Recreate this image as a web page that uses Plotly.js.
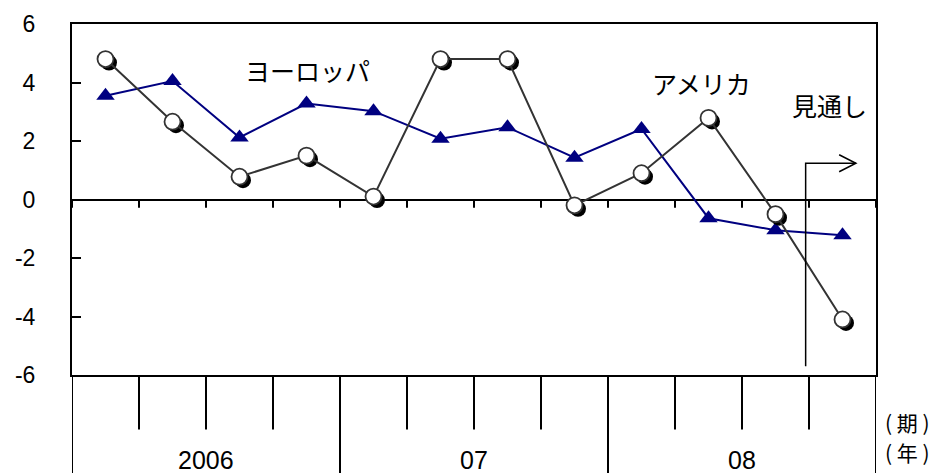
<!DOCTYPE html>
<html>
<head>
<meta charset="utf-8">
<script src="https://cdn.plot.ly/plotly-3.0.1.min.js"></script>
<style>html,body{margin:0;padding:0;background:#fff;}#chart{width:950px;height:473px;}</style>
</head>
<body>
<div id="chart"></div>
<script>
// quarters 2006Q1 .. 2008Q4
var quarters = [0,1,2,3,4,5,6,7,8,9,10,11];
var years = ['2006','07','08'];
var america = [4.8, 2.66, 0.78, 1.5, 0.1, 4.8, 4.8, -0.2, 0.9, 2.79, -0.5, -4.1];
var europe  = [3.55, 4.05, 2.12, 3.28, 3.02, 2.08, 2.47, 1.43, 2.41, -0.64, -1.05, -1.22];
var yTicks = [-6,-4,-2,0,2,4,6];
var forecastStart = 10.45;

var numFont = 'Liberation Sans, Arial, sans-serif';
var jpFont = 'Noto Sans CJK JP, sans-serif';

var traces = [
  {x: quarters, y: europe, type: 'scatter', mode: 'lines+markers',
   line: {color: '#000080', width: 2},
   marker: {symbol: 'triangle-up', size: 16, color: '#000080'},
   xaxis: 'x', yaxis: 'y', hoverinfo: 'skip'},
  {x: quarters, y: america, type: 'scatter', mode: 'markers',
   marker: {symbol: 'circle', size: 16, color: '#000', line: {width: 0}},
   xaxis: 'x2', yaxis: 'y2', hoverinfo: 'skip'},
  {x: quarters, y: america, type: 'scatter', mode: 'lines+markers',
   line: {color: '#333', width: 2},
   marker: {symbol: 'circle', size: 16, color: '#fff', line: {color: '#333', width: 1.8}},
   xaxis: 'x3', yaxis: 'y3', hoverinfo: 'skip'}
];

var n = quarters.length;
var shapes = [];
// zero-line ticks and lower table lines
for (var i = 0; i <= n; i++) {
  var xb = i - 0.5;
  shapes.push({type: 'line', xref: 'x', yref: 'y', x0: xb, x1: xb, y0: 0, y1: -0.28,
               line: {color: '#000', width: 2}});
  var isYear = (i % 4 === 0);
  shapes.push({type: 'line', xref: 'x', yref: 'paper', x0: xb, x1: xb, y0: 0,
               y1: isYear ? -0.3 : -0.155, line: {color: '#000', width: 2}});
}
// forecast marker line + arrow
var ay = 1.24, ax1 = 11.2;
shapes.push({type: 'path', xref: 'x', yref: 'y',
  path: 'M ' + forecastStart + ',-5.7 L ' + forecastStart + ',' + ay + ' L ' + ax1 + ',' + ay,
  line: {color: '#000', width: 1.5}});
shapes.push({type: 'path', xref: 'x', yref: 'y',
  path: 'M ' + (ax1 - 0.25) + ',' + (ay + 0.29) + ' L ' + ax1 + ',' + ay + ' L ' + (ax1 - 0.25) + ',' + (ay - 0.29),
  line: {color: '#000', width: 1.5}});

var annotations = [
  {text: 'ヨーロッパ', x: 3.01, y: 4.42, xref: 'x', yref: 'y', showarrow: false,
   font: {family: jpFont, size: 25, color: '#000'}},
  {text: 'アメリカ', x: 8.9, y: 4.0, xref: 'x', yref: 'y', showarrow: false,
   font: {family: jpFont, size: 25, color: '#000'}},
  {text: '見通し', x: 10.8, y: 3.22, xref: 'x', yref: 'y', showarrow: false,
   font: {family: jpFont, size: 25, color: '#000'}},
  {text: '( 期 )', x: 1.009, y: -0.135, xref: 'paper', yref: 'paper', xanchor: 'left', yanchor: 'middle',
   showarrow: false, font: {family: jpFont, size: 21, color: '#000'}},
  {text: '( 年 )', x: 1.009, y: -0.218, xref: 'paper', yref: 'paper', xanchor: 'left', yanchor: 'middle',
   showarrow: false, font: {family: jpFont, size: 21, color: '#000'}}
];
for (var k = 0; k < years.length; k++) {
  annotations.push({text: years[k], x: k * 4 + 1.5, y: -0.243, xref: 'x', yref: 'paper',
    yanchor: 'middle', showarrow: false, font: {family: numFont, size: 25, color: '#000'}});
}

var dx = 3.5 / 67, dy = 3.5 / 29.25;
var layout = {
  width: 950, height: 473,
  margin: {l: 72, r: 74, t: 24, b: 98},
  paper_bgcolor: '#fff', plot_bgcolor: '#fff',
  showlegend: false,
  xaxis: {range: [-0.5, 11.5], showgrid: false, zeroline: false, showticklabels: false,
          ticks: '', showline: true, mirror: true, linecolor: '#000', linewidth: 2, fixedrange: true},
  yaxis: {range: [-6, 6], tickvals: yTicks, ticktext: yTicks.map(String), showgrid: false,
          zeroline: true, zerolinecolor: '#000', zerolinewidth: 2,
          ticks: 'inside', ticklen: 9, tickwidth: 2, tickcolor: '#000',
          showline: true, mirror: true, linecolor: '#000', linewidth: 2,
          ticklabelstandoff: 30,
          tickfont: {family: numFont, size: 23, color: '#000'}, fixedrange: true},
  xaxis2: {range: [-0.5 - dx, 11.5 - dx], overlaying: 'x', visible: false, fixedrange: true},
  yaxis2: {range: [-6 + dy, 6 + dy], overlaying: 'y', visible: false, fixedrange: true},
  xaxis3: {range: [-0.5, 11.5], overlaying: 'x', visible: false, fixedrange: true},
  yaxis3: {range: [-6, 6], overlaying: 'y', visible: false, fixedrange: true},
  shapes: shapes,
  annotations: annotations
};

Plotly.newPlot('chart', traces, layout, {staticPlot: true, displayModeBar: false});
</script>
</body>
</html>
